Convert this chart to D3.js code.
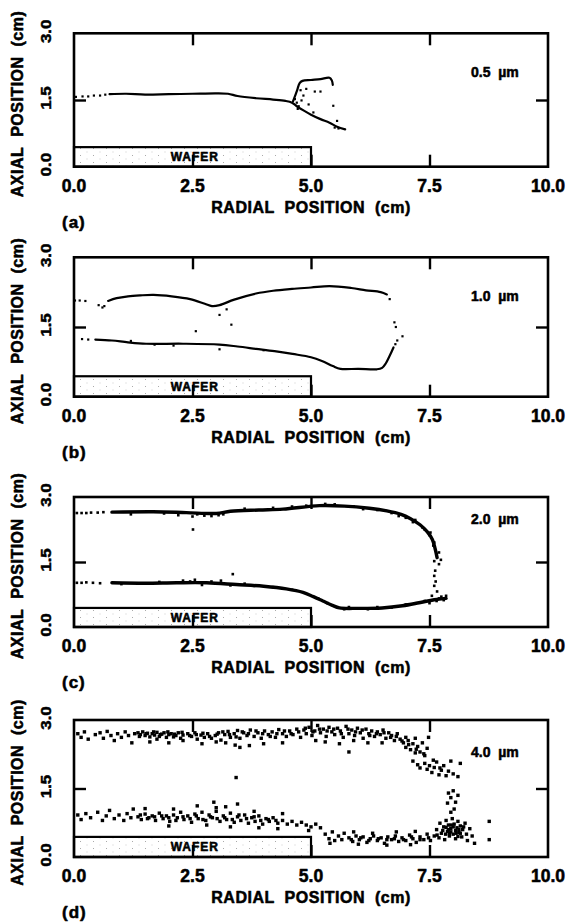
<!DOCTYPE html>
<html><head><meta charset="utf-8">
<script src="https://cdn.jsdelivr.net/npm/d3@7"></script>
<style>body{margin:0;background:#fff}svg{display:block}
text{stroke:#000;stroke-width:0.55px;stroke-linejoin:round}</style>
</head><body>
<svg id="chart" width="576" height="923"></svg>
<script>
// ---------- data ----------
const xTicks = [0, 2.5, 5, 7.5, 10];
const xTickLabels = ["0.0", "2.5", "5.0", "7.5", "10.0"];
const yTicks = [0, 1.5, 3];
const yTickLabels = ["0.0", "1.5", "3.0"];
const particleSizes = ["0.5", "1.0", "2.0", "4.0"];
const panelLetters = ["(a)", "(b)", "(c)", "(d)"];
const waferEdge = 5.0;
const waferHeight = 0.44;

// (a) 0.5 um
const aTrack = [[0.75,1.63],[1.1,1.64],[1.5,1.62],[2.0,1.63],[2.5,1.64],[3.0,1.65],[3.25,1.64],[3.45,1.59],[3.84,1.54],[4.2,1.51],[4.46,1.48],[4.6,1.44],[4.7,1.36],[4.85,1.26],[5.0,1.17],[5.2,1.07],[5.39,0.99],[5.55,0.9],[5.72,0.84]];
const aBranch = [[4.62,1.47],[4.66,1.58],[4.71,1.73],[4.76,1.88],[4.82,1.93],[5.0,1.95],[5.2,1.97],[5.39,2.0],[5.44,1.94],[5.46,1.84]];
const aDots = [[0.04,1.57],[0.18,1.58],[0.3,1.58],[0.42,1.6],[0.55,1.6],[0.66,1.62],[4.66,1.52],[4.7,1.44],[4.74,1.36],[4.8,1.49],[4.84,1.6],[4.9,1.75],[4.78,1.72],[5.08,1.69],[5.2,1.69],[4.95,1.4],[5.47,1.37],[5.55,1.03],[5.5,0.88],[5.58,0.86],[5.05,1.22],[4.72,1.3]];

// (b) 1.0 um
const bUpper = [[0.72,2.06],[0.9,2.12],[1.14,2.16],[1.4,2.18],[1.68,2.19],[2.06,2.16],[2.45,2.1],[2.76,2.0],[2.91,1.95],[3.07,1.97],[3.38,2.09],[3.84,2.22],[4.2,2.28],[4.6,2.32],[5.0,2.35],[5.39,2.38],[5.85,2.34],[6.16,2.29],[6.47,2.25],[6.6,2.2]];
const bLower = [[0.45,1.23],[0.8,1.21],[1.14,1.17],[1.52,1.14],[2.3,1.14],[3.07,1.12],[3.45,1.08],[3.84,1.03],[4.23,0.98],[4.61,0.92],[5.0,0.85],[5.23,0.77],[5.46,0.66],[5.62,0.6],[6.0,0.6],[6.39,0.59],[6.5,0.62],[6.58,0.72],[6.66,0.88],[6.74,1.06]];
const bDots = [[0.02,2.07],[0.12,2.07],[0.24,2.06],[0.52,1.97],[0.6,1.92],[0.64,1.95],[0.17,1.24],[0.3,1.23],[3.22,1.88],[3.07,1.76],[3.32,1.55],[6.66,2.1],[6.76,1.6],[6.79,1.5],[6.93,1.3],[6.82,1.21],[6.78,1.13],[2.57,1.41],[3.07,1.02],[2.1,1.1],[1.7,1.12],[1.2,1.2],[4.0,1.0]];

// (c) 2.0 um
const cUpper = [[0.8,2.65],[1.67,2.66],[2.37,2.64],[3.0,2.62],[3.3,2.67],[3.9,2.7],[4.41,2.72],[5.18,2.8],[5.7,2.79],[6.23,2.74],[6.6,2.68],[6.9,2.6],[7.1,2.5],[7.3,2.36],[7.45,2.2],[7.56,2.02],[7.62,1.8],[7.66,1.6]];
const cLower = [[0.8,1.02],[1.5,1.01],[2.16,1.02],[2.8,1.02],[3.42,0.98],[4.0,0.94],[4.48,0.88],[4.83,0.8],[5.05,0.7],[5.25,0.6],[5.45,0.5],[5.6,0.44],[6.0,0.43],[6.5,0.44],[6.93,0.49],[7.28,0.56],[7.6,0.63],[7.85,0.66]];
const cDots = [[0.06,2.63],[0.16,2.63],[0.26,2.63],[0.36,2.64],[0.5,2.64],[0.62,2.65],[0.06,1.02],[0.16,1.02],[0.26,1.03],[0.4,1.02],[0.55,1.01],
[1.2,2.6],[1.9,2.62],[2.2,2.58],[2.5,2.55],[2.6,2.6],[2.75,2.57],[2.9,2.56],[3.05,2.58],[3.15,2.6],[3.6,2.73],[4.2,2.75],[4.6,2.78],[4.9,2.8],[5.3,2.84],[5.5,2.83],[5.9,2.78],[6.1,2.72],[6.4,2.7],[6.7,2.63],[6.85,2.56],[7.0,2.52],[7.15,2.42],[7.2,2.47],[7.35,2.3],[7.4,2.25],[7.5,2.12],[7.52,2.18],[7.6,1.95],[7.58,1.88],[7.7,1.72],[7.65,1.68],[7.74,1.55],[7.6,1.52],[7.7,1.45],[7.62,1.3],[7.6,1.18],[7.63,1.05],[7.6,0.95],[7.66,0.82],[2.51,2.25],
[1.0,0.99],[1.8,1.04],[2.3,1.07],[2.45,1.05],[2.55,1.09],[2.7,0.97],[2.9,1.05],[3.1,1.07],[3.3,0.96],[3.35,1.22],[3.6,1.0],[3.8,0.95],[4.2,0.92],[4.6,0.86],[5.15,0.66],[5.35,0.55],[5.7,0.41],[5.8,0.46],[6.2,0.41],[6.4,0.46],[6.7,0.45],[7.0,0.52],[7.2,0.54],[7.4,0.6],[7.5,0.55],[7.65,0.6],[7.75,0.7],[7.8,0.62],[7.85,0.72],[7.7,0.66],[7.55,0.72]];

// (d) 4.0 um
const dDots = [
[0.08,2.7],[0.15,2.62],[0.22,2.74],[0.3,2.58],[0.45,2.68],[0.55,2.72],[0.62,2.6],[0.7,2.75],[0.78,2.66],[0.85,2.55],[0.92,2.7],[1.0,2.62],[1.08,2.74],[1.15,2.66],[1.22,2.5],[1.28,2.7],
[1.35,2.72],[1.4,2.68],[1.45,2.74],[1.5,2.66],[1.55,2.71],[1.6,2.63],[1.65,2.7],[1.7,2.67],[1.75,2.73],[1.8,2.64],[1.85,2.69],[1.9,2.72],[1.95,2.62],[2.0,2.68],[2.05,2.7],[2.1,2.63],[2.15,2.66],[2.2,2.72],[2.25,2.6],[2.3,2.67],[1.6,2.52],[2.0,2.5],[1.75,2.58],
[2.4,2.7],[2.48,2.64],[2.55,2.72],[2.6,2.58],[2.68,2.67],[2.75,2.62],[2.82,2.7],[2.9,2.6],[2.98,2.66],[3.05,2.72],[3.1,2.56],[3.18,2.68],[3.25,2.75],[3.3,2.62],[3.38,2.7],[3.45,2.77],[3.5,2.6],[3.58,2.72],[3.65,2.66],[3.72,2.78],[3.8,2.64],[3.88,2.72],[3.95,2.6],[4.02,2.76],[4.1,2.68],[4.18,2.74],[4.25,2.62],[4.32,2.79],[4.4,2.7],[4.48,2.64],[4.55,2.76],[4.62,2.68],[4.7,2.8],[4.78,2.62],
[2.7,2.48],[3.0,2.52],[3.4,2.45],[3.5,2.4],[3.7,2.44],[4.0,2.48],[4.4,2.5],[2.3,2.55],[3.2,2.5],
[4.85,2.78],[4.9,2.7],[4.96,2.84],[5.02,2.66],[5.08,2.76],[5.14,2.88],[5.2,2.72],[5.26,2.8],[5.32,2.64],[5.38,2.84],[5.44,2.74],[5.5,2.68],[5.56,2.82],[5.62,2.76],[5.68,2.62],[5.74,2.86],[5.8,2.7],[5.86,2.78],[5.92,2.66],[5.98,2.82],[6.04,2.72],[6.1,2.6],[6.16,2.8],[6.22,2.7],[6.28,2.76],[6.34,2.64],[6.4,2.74],[6.46,2.68],[6.52,2.78],[6.58,2.6],[6.64,2.72],[6.7,2.66],[6.76,2.55],[6.82,2.7],[6.88,2.58],
[5.3,2.52],[5.6,2.48],[5.9,2.55],[6.2,2.5],[6.5,2.5],[5.1,2.55],[5.8,2.3],
[6.95,2.5],[7.0,2.4],[7.05,2.55],[7.1,2.35],[7.15,2.48],[7.2,2.28],[7.25,2.42],[7.3,2.3],[7.35,2.5],[7.4,2.22],[7.45,2.38],[7.48,2.62],[7.0,2.62],[7.2,2.6],
[7.15,2.1],[7.25,2.02],[7.3,1.95],[7.4,2.05],[7.45,1.92],[7.5,2.0],[7.55,1.85],[7.6,1.96],[7.65,2.08],[7.7,1.8],[7.75,1.9],[7.8,2.0],[7.85,1.78],[7.9,1.88],[7.95,2.1],[8.0,1.82],[8.1,1.76],[8.15,2.05],[7.72,1.95],[7.58,2.12],
[7.9,1.4],[7.95,1.3],[8.0,1.45],[8.05,1.2],[7.88,1.18],[8.1,1.35],[8.02,1.05],[7.95,0.98],[3.42,1.74],
[1.38,2.64],[1.52,2.7],[1.68,2.74],[1.82,2.68],[1.98,2.74],[2.12,2.69],[2.28,2.73],[2.44,2.66],[2.58,2.68],[2.72,2.71],[2.86,2.64],[3.02,2.69],[3.14,2.74],[3.28,2.68],[3.42,2.63],[3.55,2.74],[3.68,2.7],[3.84,2.76],[3.98,2.7],[4.14,2.64],[4.28,2.7],[4.44,2.76],[4.58,2.7],[4.74,2.74],[4.88,2.82],[5.04,2.74],[5.18,2.8],[5.34,2.76],[5.48,2.8],[5.64,2.7],[5.78,2.8],[5.94,2.74],[6.08,2.78],[6.24,2.66],[6.38,2.7],[6.54,2.72],[6.68,2.62],[6.8,2.64],[6.92,2.54],[7.06,2.46],[7.22,2.36],[7.38,2.26],
[0.08,0.92],[0.15,0.82],[0.25,0.95],[0.35,0.86],[0.5,0.98],[0.6,0.8],[0.68,0.9],[0.75,1.02],[0.85,0.84],[0.95,0.92],[1.05,0.8],[1.12,0.95],[1.2,0.86],[1.25,1.05],
[1.35,0.88],[1.42,0.82],[1.5,0.94],[1.58,0.86],[1.65,0.9],[1.72,0.8],[1.8,0.96],[1.88,0.84],[1.95,0.9],[2.02,0.78],[2.1,0.92],[2.18,0.86],[2.25,0.98],[2.32,0.82],[2.4,0.9],[2.48,0.76],[2.55,0.94],[2.62,0.84],[2.7,0.98],[2.78,0.8],[2.85,0.92],[2.92,0.86],[3.0,1.0],[3.08,0.78],[3.15,0.9],[3.22,0.82],[3.3,0.96],[3.38,0.76],[3.45,0.88],[3.52,0.8],[3.6,0.92],[3.68,0.74],[3.75,0.86],[3.82,0.78],[3.9,0.9],[3.98,0.72],[4.05,0.84],[4.12,0.78],[4.2,0.86],[4.3,0.74],[4.4,0.8],[4.5,0.72],[4.6,0.78],[4.7,0.7],[4.8,0.76],
[1.4,0.92],[1.55,0.84],[1.7,0.88],[1.85,0.9],[2.0,0.86],[2.15,0.8],[2.3,0.88],[2.45,0.84],[2.58,0.9],[2.72,0.82],[2.88,0.88],[3.02,0.84],[3.18,0.86],[3.34,0.82],[3.48,0.92],[3.64,0.84],[3.8,0.88],[3.94,0.8],[4.1,0.82],[4.26,0.8],
[2.95,1.2],[3.2,1.1],[3.45,1.16],[3.0,1.08],[2.6,1.12],[2.1,1.05],[1.5,1.06],[3.8,1.0],[4.4,0.95],
[2.0,0.68],[2.8,0.7],[3.3,0.66],[3.9,0.64],[4.3,0.62],
[4.9,0.7],[5.0,0.66],[5.1,0.72],[5.2,0.64],[4.95,0.58],
[5.3,0.5],[5.38,0.4],[5.45,0.55],[5.5,0.36],[5.58,0.46],[5.65,0.38],[5.7,0.52],[5.4,0.3],
[5.8,0.42],[5.88,0.34],[5.95,0.46],[6.02,0.38],[6.1,0.44],[6.18,0.32],[6.25,0.4],[6.32,0.46],[6.4,0.36],[6.48,0.42],[6.55,0.3],[6.62,0.44],[6.7,0.38],[6.78,0.46],[6.85,0.34],[6.92,0.42],[7.0,0.36],[7.08,0.48],[7.15,0.4],[7.22,0.32],[7.3,0.44],[7.38,0.38],[7.45,0.5],[7.52,0.36],[7.6,0.46],[5.9,0.55],[6.3,0.52],[6.8,0.55],[7.2,0.56],[6.0,0.28],[6.6,0.26],[7.1,0.27],
[5.85,0.38],[6.05,0.42],[6.22,0.36],[6.42,0.4],[6.6,0.38],[6.76,0.4],[6.95,0.38],[7.12,0.44],[7.3,0.38],[7.48,0.42],[7.66,0.48],[7.84,0.5],
[7.65,0.6],[7.7,0.42],[7.72,0.74],[7.75,0.52],[7.8,0.66],[7.82,0.38],[7.85,0.8],[7.88,0.56],[7.9,0.7],[7.92,0.46],[7.95,0.62],[7.98,0.84],[8.0,0.5],[8.02,0.72],[8.05,0.4],[8.08,0.64],[8.1,0.78],[8.12,0.54],[8.15,0.68],[8.18,0.44],[8.2,0.6],[8.25,0.74],[8.28,0.5],[8.3,0.36],[8.35,0.62],[8.4,0.46],[8.45,0.3],[7.78,0.58],[7.95,0.55],[8.05,0.58],[8.15,0.52],[7.85,0.65],[8.0,0.66],[8.1,0.45],[7.9,0.6],
[7.96,0.7],[8.06,0.52],[8.22,0.66],[8.12,0.6],[7.92,0.52],
[8.76,0.78],[8.76,0.38]];

const panelLines = [[aTrack, aBranch], [bUpper, bLower], [cUpper, cLower], []];
const panelDots = [aDots, bDots, cDots, dDots];

// ---------- layout ----------
const FONT = '"Liberation Sans", Arial, Helvetica, sans-serif';
const layout = [
  {top: 33.3, bottom: 166.7, lab: 44, lw: 2.2, ds: 2.2},
  {top: 257.3, bottom: 396.7, lab: 44, lw: 2.2, ds: 2.2},
  {top: 497, bottom: 627, lab: 27, lw: 3.4, ds: 2.6},
  {top: 720, bottom: 857, lab: 37, lw: 0, ds: 3.4}
];

const svg = d3.select("#chart");
const x = d3.scaleLinear().domain([0, 10]).range([74, 548]);

const defs = svg.append("defs");
const pat = defs.append("pattern").attr("id", "stip").attr("patternUnits", "userSpaceOnUse")
  .attr("width", 13).attr("height", 7);
pat.append("rect").attr("x", 2).attr("y", 1).attr("width", 1).attr("height", 1).attr("fill", "#aaa");
pat.append("rect").attr("x", 8.5).attr("y", 4.5).attr("width", 1).attr("height", 1).attr("fill", "#ccc");

layout.forEach((L, i) => {
  const y = d3.scaleLinear().domain([0, 3]).range([L.bottom, L.top]);
  const g = svg.append("g");

  // wafer
  g.append("rect")
    .attr("x", x(0)).attr("y", y(waferHeight))
    .attr("width", x(waferEdge) - x(0)).attr("height", y(0) - y(waferHeight))
    .attr("fill", "url(#stip)").attr("stroke", "#000").attr("stroke-width", 2.2);
  g.append("text")
    .attr("x", x(2.55)).attr("y", (y(0) + y(waferHeight)) / 2)
    .attr("dy", "0.36em").attr("text-anchor", "middle")
    .attr("font-family", FONT).attr("font-weight", "bold").attr("font-size", 12)
    .attr("letter-spacing", 1).text("WAFER");

  // inner ticks via axes
  const tickStyle = sel => {
    sel.select(".domain").remove();
    sel.selectAll(".tick line").attr("stroke", "#000").attr("stroke-width", 2.4);
    sel.selectAll(".tick text").remove();
  };
  g.append("g").attr("transform", `translate(0,${L.bottom})`)
    .call(d3.axisBottom(x).tickValues(xTicks.slice(1, -1)).tickSize(-12)).call(tickStyle);
  g.append("g").attr("transform", `translate(0,${L.top})`)
    .call(d3.axisTop(x).tickValues(xTicks.slice(1, -1)).tickSize(-12)).call(tickStyle);
  g.append("g").attr("transform", `translate(${x(0)},0)`)
    .call(d3.axisLeft(y).tickValues(yTicks.slice(1, -1)).tickSize(-12)).call(tickStyle);
  g.append("g").attr("transform", `translate(${x(10)},0)`)
    .call(d3.axisRight(y).tickValues(yTicks.slice(1, -1)).tickSize(-12)).call(tickStyle);

  // frame
  g.append("rect").attr("x", x(0)).attr("y", y(3))
    .attr("width", x(10) - x(0)).attr("height", y(0) - y(3))
    .attr("fill", "none").attr("stroke", "#000").attr("stroke-width", 2.6);

  // data
  const line = d3.line().x(d => x(d[0])).y(d => y(d[1])).curve(d3.curveCatmullRom.alpha(0.5));
  panelLines[i].forEach(s => {
    g.append("path").attr("d", line(s)).attr("fill", "none")
      .attr("stroke", "#000").attr("stroke-width", L.lw).attr("stroke-linecap", "round");
  });
  g.selectAll(".pt").data(panelDots[i]).join("rect")
    .attr("x", d => x(d[0]) - L.ds / 2).attr("y", d => y(d[1]) - L.ds / 2)
    .attr("width", L.ds).attr("height", L.ds).attr("fill", "#000");

  // x tick labels
  g.selectAll(".xl").data(xTicks).join("text")
    .attr("x", d => x(d)).attr("y", L.bottom + 25)
    .attr("text-anchor", "middle").attr("font-family", FONT).attr("font-weight", "bold")
    .attr("font-size", 17.5).text((d, k) => xTickLabels[k]);

  // y tick labels (rotated)
  g.selectAll(".yl").data(yTicks).join("text")
    .attr("transform", d => `translate(51,${y(d) - 2}) scale(0.82,1) rotate(-90)`)
    .attr("text-anchor", "middle").attr("font-family", FONT).attr("font-weight", "bold")
    .attr("font-size", 17).text((d, k) => yTickLabels[k]);

  // axis titles
  g.append("text").attr("x", (x(0) + x(10)) / 2).attr("y", L.bottom + 46)
    .attr("text-anchor", "middle").attr("font-family", FONT).attr("font-weight", "bold")
    .attr("font-size", 16).attr("letter-spacing", 0.5)
    .text("RADIAL\u00a0\u00a0POSITION\u00a0\u00a0(cm)");
  g.append("text")
    .attr("transform", `translate(23,${(L.top + L.bottom) / 2 + 4}) rotate(-90)`)
    .attr("text-anchor", "middle").attr("font-family", FONT).attr("font-weight", "bold")
    .attr("font-size", 16).attr("letter-spacing", 0.5)
    .text("AXIAL\u00a0\u00a0POSITION\u00a0\u00a0(cm)");

  // particle size label
  g.append("text").attr("x", 471).attr("y", L.top + L.lab)
    .attr("font-family", FONT).attr("font-weight", "bold").attr("font-size", 14)
    .text(particleSizes[i] + "\u00a0\u00a0\u00b5m");

  // panel letter
  g.append("text").attr("x", 62).attr("y", L.bottom + 61)
    .attr("font-family", FONT).attr("font-weight", "bold").attr("font-size", 17)
    .attr("letter-spacing", 1).text(panelLetters[i]);
});
</script>
</body></html>
